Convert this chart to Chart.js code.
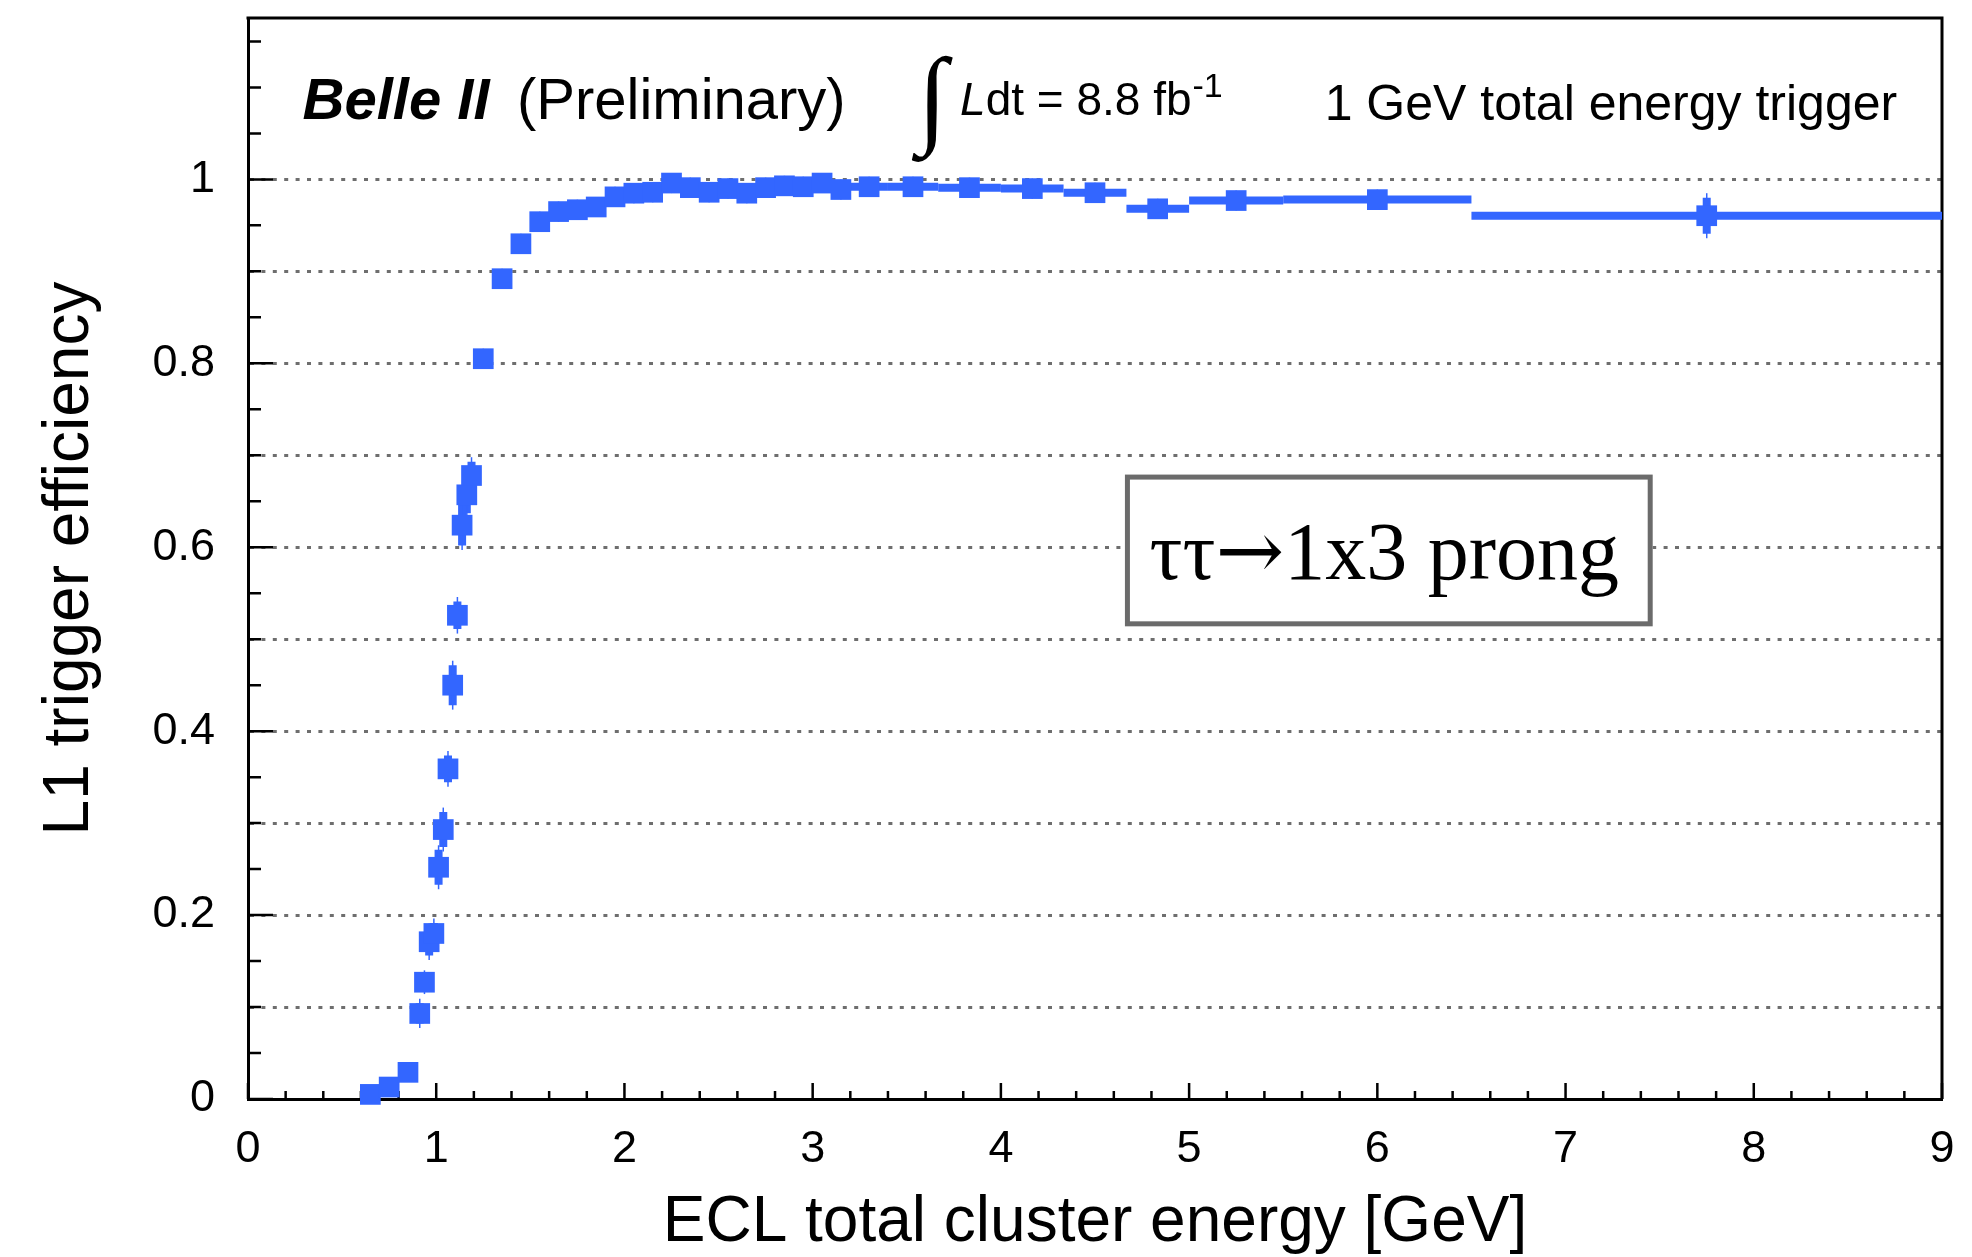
<!DOCTYPE html>
<html>
<head>
<meta charset="utf-8">
<script src="https://cdn.jsdelivr.net/npm/chart.js@4.4.1/dist/chart.umd.min.js"></script>
<style>
  html, body { margin: 0; padding: 0; background: #fff; }
  canvas { display: block; }
</style>
</head>
<body>
<canvas id="effChart" width="1972" height="1257"></canvas>
<script>
// bin centres, edges [GeV]
const energy = [0.65, 0.75, 0.85, 0.9125, 0.9375, 0.9625, 0.9875, 1.0125, 1.0375, 1.0625, 1.0875, 1.1125, 1.1375, 1.1625, 1.1875,
  1.25, 1.35, 1.45, 1.55, 1.65, 1.75, 1.85, 1.95, 2.05, 2.15, 2.25, 2.35, 2.45, 2.55, 2.65, 2.75, 2.85, 2.95, 3.05, 3.15,
  3.3, 3.533, 3.833, 4.167, 4.5, 4.833, 5.25, 6.0, 7.75];
const binLow = [0.6, 0.7, 0.8, 0.9, 0.925, 0.95, 0.975, 1.0, 1.025, 1.05, 1.075, 1.1, 1.125, 1.15, 1.175,
  1.2, 1.3, 1.4, 1.5, 1.6, 1.7, 1.8, 1.9, 2.0, 2.1, 2.2, 2.3, 2.4, 2.5, 2.6, 2.7, 2.8, 2.9, 3.0, 3.1,
  3.2, 3.4, 3.667, 4.0, 4.333, 4.667, 5.0, 5.5, 6.5];
const binHigh = [0.7, 0.8, 0.9, 0.925, 0.95, 0.975, 1.0, 1.025, 1.05, 1.075, 1.1, 1.125, 1.15, 1.175, 1.2,
  1.3, 1.4, 1.5, 1.6, 1.7, 1.8, 1.9, 2.0, 2.1, 2.2, 2.3, 2.4, 2.5, 2.6, 2.7, 2.8, 2.9, 3.0, 3.1, 3.2,
  3.4, 3.667, 4.0, 4.333, 4.667, 5.0, 5.5, 6.5, 9.0];
// L1 efficiency and its error
const efficiency = [0.005, 0.013, 0.029, 0.093, 0.127, 0.171, 0.180, 0.252, 0.293, 0.359, 0.450, 0.526, 0.624, 0.657, 0.678,
  0.805, 0.892, 0.930, 0.954, 0.965, 0.967, 0.970, 0.981, 0.985, 0.986, 0.996, 0.991, 0.986, 0.990, 0.985, 0.991, 0.993, 0.992, 0.996, 0.989,
  0.992, 0.992, 0.991, 0.990, 0.9855, 0.968, 0.977, 0.978, 0.9605];
const effError = [0.003, 0.004, 0.005, 0.011, 0.008, 0.015, 0.0115, 0.019, 0.019, 0.0146, 0.0217, 0.015, 0.022, 0.020, 0.015,
  0.006, 0.006, 0.006, 0.006, 0.006, 0.006, 0.006, 0.006, 0.006, 0.006, 0.006, 0.006, 0.006, 0.006, 0.006, 0.006, 0.006, 0.006, 0.006, 0.006,
  0.006, 0.006, 0.006, 0.006, 0.006, 0.006, 0.006, 0.006, 0.0196];

const xTickLabels = ["0", "1", "2", "3", "4", "5", "6", "7", "8", "9"];
const yTickValues = [0, 0.2, 0.4, 0.6, 0.8, 1];
const yTickLabels = ["0", "0.2", "0.4", "0.6", "0.8", "1"];

const BLUE = "#3366ff";
const SANS = "'Liberation Sans', Arial, Helvetica, sans-serif";
const SERIF = "'Liberation Serif', 'Times New Roman', serif";

// ROOT-like frame, inner ticks, error bars and labels
const rootStyle = {
  id: "rootStyle",
  beforeDatasetsDraw(chart) {
    const { ctx, chartArea: a, scales: { x, y } } = chart;
    ctx.save();

    // top and right frame
    ctx.strokeStyle = "#000";
    ctx.lineWidth = 3;
    ctx.beginPath();
    ctx.moveTo(a.left - 1.5, a.top);
    ctx.lineTo(a.right, a.top);
    ctx.lineTo(a.right, a.bottom);
    ctx.stroke();

    // ticks pointing inside
    ctx.lineWidth = 2.5;
    ctx.beginPath();
    for (let k = 0; k <= 45; k++) {
      const px = x.getPixelForValue(k * 0.2);
      const len = k % 5 === 0 ? 16 : 8;
      ctx.moveTo(px, a.bottom);
      ctx.lineTo(px, a.bottom - len);
    }
    for (let k = 0; k * 0.05 <= y.max; k++) {
      const py = y.getPixelForValue(k * 0.05);
      const len = k % 4 === 0 ? 25 : 13;
      ctx.moveTo(a.left, py);
      ctx.lineTo(a.left + len, py);
    }
    ctx.stroke();

    // decay mode box
    const bx0 = x.getPixelForValue(4.659), bx1 = x.getPixelForValue(7.463);
    const by0 = y.getPixelForValue(0.679), by1 = y.getPixelForValue(0.514);
    ctx.fillStyle = "#fff";
    ctx.fillRect(bx0, by0, bx1 - bx0, by1 - by0);
    ctx.strokeStyle = "#6b6b6b";
    ctx.lineWidth = 5;
    ctx.strokeRect(bx0 + 2.5, by0 + 2.5, bx1 - bx0 - 5, by1 - by0 - 5);
    ctx.fillStyle = "#000";
    ctx.textBaseline = "alphabetic";
    ctx.textAlign = "left";
    const ty = y.getPixelForValue(0.566);
    let tx = x.getPixelForValue(4.79);
    ctx.font = "82px " + SERIF;
    ctx.fillText("ττ", tx, ty);
    tx += ctx.measureText("ττ").width;
    ctx.font = "82px 'DejaVu Serif', serif";
    ctx.fillText("→", tx, ty);
    tx += ctx.measureText("→").width;
    ctx.font = "82px " + SERIF;
    ctx.fillText("1x3 prong", tx, ty);

    // error bars
    ctx.strokeStyle = BLUE;
    ctx.lineCap = "butt";
    energy.forEach((e, i) => {
      const py = y.getPixelForValue(efficiency[i]);
      const px = x.getPixelForValue(e);
      ctx.lineWidth = 8;
      ctx.beginPath();
      ctx.moveTo(x.getPixelForValue(binLow[i]), py);
      ctx.lineTo(x.getPixelForValue(binHigh[i]), py);
      const yHi = y.getPixelForValue(efficiency[i] + effError[i]);
      const yLo = y.getPixelForValue(efficiency[i] - effError[i]);
      ctx.moveTo(px, yHi);
      ctx.lineTo(px, yLo);
      ctx.stroke();
      ctx.lineWidth = 1.5;
      ctx.beginPath();
      ctx.moveTo(px, yHi - 4.5);
      ctx.lineTo(px, yLo + 4.5);
      ctx.stroke();
    });
    ctx.restore();
  },
  afterDatasetsDraw(chart) {
    const { ctx, scales: { x, y } } = chart;
    ctx.save();
    ctx.fillStyle = "#000";
    ctx.textAlign = "left";
    ctx.textBaseline = "alphabetic";

    const yTop = y.getPixelForValue(1.0652);
    ctx.font = "italic bold 58px " + SANS;
    ctx.fillText("Belle II", x.getPixelForValue(0.29), yTop);
    ctx.font = "58px " + SANS;
    ctx.fillText("(Preliminary)", x.getPixelForValue(1.429), yTop);

    // integral sign scaled to its box
    ctx.font = "100px " + SERIF;
    const m = ctx.measureText("∫");
    const h = m.actualBoundingBoxAscent + m.actualBoundingBoxDescent;
    const size = 100 * 107 / h;
    ctx.font = size + "px " + SERIF;
    const m2 = ctx.measureText("∫");
    const intTop = y.getPixelForValue(1.1348);
    ctx.fillText("∫", x.getPixelForValue(3.527) + m2.actualBoundingBoxLeft, intTop + m2.actualBoundingBoxAscent);

    const lumY = y.getPixelForValue(1.0696);
    let lx = x.getPixelForValue(3.783);
    ctx.font = "italic 46px " + SANS;
    ctx.fillText("L", lx, lumY);
    lx += ctx.measureText("L").width;
    ctx.font = "46px " + SANS;
    ctx.fillText("dt = 8.8 fb", lx, lumY);
    lx += ctx.measureText("dt = 8.8 fb").width + 1;
    ctx.font = "34px " + SANS;
    ctx.fillText("-1", lx, y.getPixelForValue(1.0891));

    ctx.font = "50px " + SANS;
    ctx.fillText("1 GeV total energy trigger", x.getPixelForValue(5.72), y.getPixelForValue(1.0641));
    ctx.restore();
  }
};

const data = {
  datasets: [{
    label: "efficiency",
    data: energy.map((e, i) => ({ x: e, y: efficiency[i] })),
    backgroundColor: BLUE,
    borderColor: BLUE,
    pointStyle: "rect",
    pointRadius: 14.64,
    pointBorderWidth: 0,
    showLine: false,
    clip: false,
  }],
};

const config = {
  type: "scatter",
  data: data,
  options: {
    responsive: false,
    animation: false,
    events: [],
    layout: { padding: { top: 18, right: 30, left: 0, bottom: 0 } },
    plugins: { legend: { display: false }, tooltip: { enabled: false } },
    scales: {
      x: {
        type: "linear",
        min: 0,
        max: 9,
        afterFit: (s) => { s.height = 158; s.paddingLeft = 0; s.paddingRight = 0; },
        border: { display: true, color: "#000", width: 3 },
        grid: { display: false },
        ticks: {
          stepSize: 1,
          autoSkip: false,
          maxRotation: 0,
          padding: 16,
          color: "#000",
          font: { family: SANS, size: 45 },
          callback: (v) => xTickLabels[Math.round(v)] ?? "",
        },
        title: {
          display: true,
          text: "ECL total cluster energy [GeV]",
          color: "#000",
          font: { family: SANS, size: 64, lineHeight: 1 },
          padding: { top: 0, bottom: 2 },
        },
      },
      y: {
        min: 0,
        max: 1.1755,
        afterFit: (s) => { s.width = 248; s.paddingTop = 0; s.paddingBottom = 0; },
        border: { display: true, color: "#000", width: 3, dash: [4, 7.4] },
        grid: {
          drawTicks: false,
          lineWidth: 3,
          color: (c) => (c.tick && c.tick.value > 0.05 && c.tick.value < 1.05 ? "#6e6e6e" : "rgba(0,0,0,0)"),
        },
        ticks: {
          stepSize: 0.1,
          autoSkip: false,
          padding: 33,
          color: "#000",
          font: { family: SANS, size: 45 },
          callback: (v) => {
            const idx = yTickValues.findIndex((t) => Math.abs(t - v) < 1e-6);
            return idx >= 0 ? yTickLabels[idx] : "";
          },
        },
        title: {
          display: true,
          text: "L1 trigger efficiency",
          color: "#000",
          font: { family: SANS, size: 64, lineHeight: 1 },
          padding: { top: 38, bottom: 0 },
        },
      },
    },
  },
  plugins: [rootStyle],
};

window.onload = function () {
  const ctx = document.getElementById("effChart").getContext("2d");
  const effChart = new Chart(ctx, config);
};
</script>
</body>
</html>
